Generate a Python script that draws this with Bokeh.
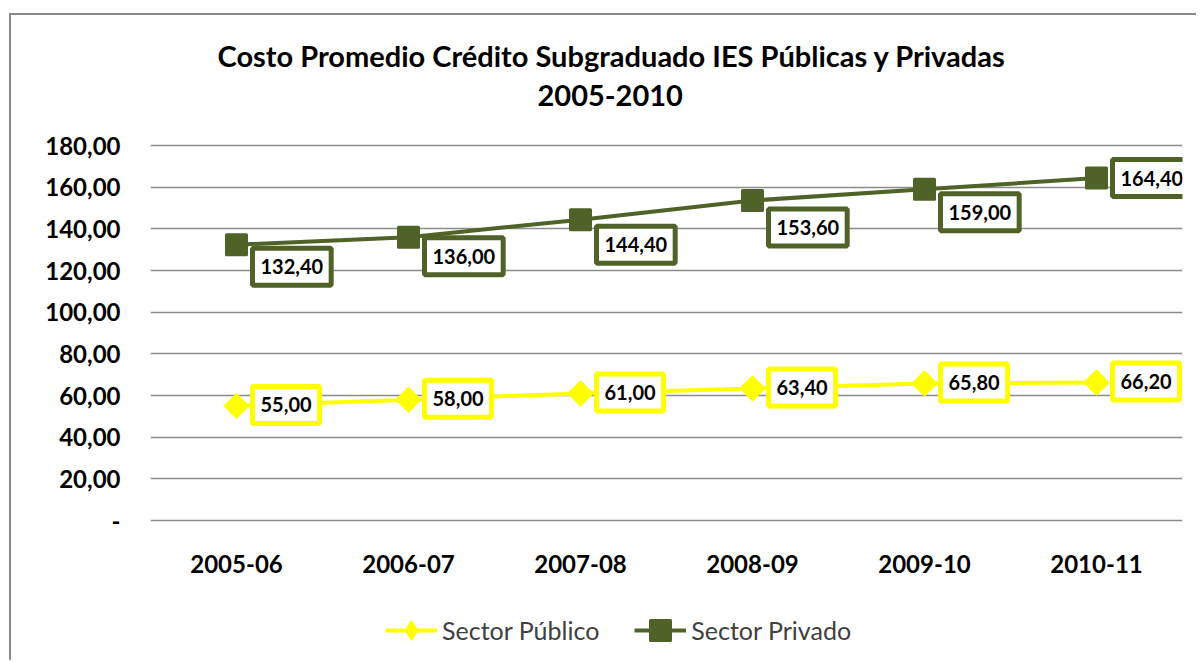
import math
from bokeh.plotting import figure
from bokeh.models import (FactorRange, Range1d, FixedTicker, Legend, LegendItem,
                          Title, ColumnDataSource)
from bokeh.core.properties import value
from bokeh.embed import file_html
from bokeh.resources import INLINE

# ---------------- data ----------------
categories = ["2005-06", "2006-07", "2007-08", "2008-09", "2009-10", "2010-11"]
publico = [55.00, 58.00, 61.00, 63.40, 65.80, 66.20]
privado = [132.40, 136.00, 144.40, 153.60, 159.00, 164.40]
y_ticks = [0, 20, 40, 60, 80, 100, 120, 140, 160, 180]
y_tick_labels = ["-", "20,00", "40,00", "60,00", "80,00", "100,00",
                 "120,00", "140,00", "160,00", "180,00"]
title_lines = ["Costo Promedio Crédito Subgraduado  IES Públicas y Privadas", "2005-2010"]
series_names = ["Sector Público", "Sector Privado"]

# label placement (styling, pixels)
priv_label_dy = [22, 19, 25, 27, 23, 0]
pub_label_dy = [-1, -1, -1, -1, -1, -1]

def fmt(v):
    return f"{v:.2f}".replace(".", ",")

FONT = "Lato"
PRIV = "#4F6228"
PUB = "#FFFF00"

# layout geometry (pixels): value axis 0..180 spans 375 px; the frame is extended
# 36 px above 180 (room for the title spacing) and 140 px below 0 (category
# labels + legend live there).
Y_MIN, Y_MAX = 0, 180
PLOT_H = 375
EXTRA_TOP, EXTRA_BOTTOM = 36, 140
units_per_px = (Y_MAX - Y_MIN) / PLOT_H
y_range = Range1d(Y_MIN - EXTRA_BOTTOM * units_per_px, Y_MAX + EXTRA_TOP * units_per_px)

p = figure(frame_width=1032, frame_height=PLOT_H + EXTRA_TOP + EXTRA_BOTTOM,
           output_backend="svg", toolbar_location=None,
           x_range=FactorRange(*categories), y_range=y_range,
           min_border_left=139, min_border_right=14, min_border_top=94,
           min_border_bottom=0, title_location=None,
           styles={"margin-left": "9px", "margin-top": "13px",
                   "border-left": "2px solid #8a8a8a", "border-top": "2px solid #8a8a8a"})
p.outline_line_color = None
p.background_fill_color = "white"
p.border_fill_color = "white"
p.xgrid.grid_line_color = None
p.ygrid.grid_line_color = "#8c8c8c"
p.ygrid.grid_line_width = 1.3
p.ygrid.ticker = FixedTicker(ticks=y_ticks)

ya = p.yaxis[0]
ya.ticker = FixedTicker(ticks=y_ticks)
ya.major_label_overrides = {t: l for t, l in zip(y_ticks, y_tick_labels)}
ya.axis_line_color = None
ya.major_tick_line_color = None
ya.minor_tick_line_color = None
ya.major_tick_out = 0
ya.major_label_standoff = 30
ya.major_label_text_font = FONT
ya.major_label_text_font_style = "bold"
ya.major_label_text_font_size = "24px"
ya.major_label_text_color = "black"

p.xaxis.visible = False

src = ColumnDataSource(dict(
    cat=categories, pub=publico, priv=privado,
    pub_lbl=[fmt(v) for v in publico], priv_lbl=[fmt(v) for v in privado],
    priv_dy=priv_label_dy, pub_dy=pub_label_dy, base=[Y_MIN] * len(categories),
))

# category labels under the value axis baseline
p.text("cat", "base", text="cat", source=src, y_offset=43,
       text_align="center", text_baseline="middle", text_font=value(FONT),
       text_font_style="bold", text_font_size="24px", text_color="black")

l_priv = p.line("cat", "priv", source=src, line_color=PRIV, line_width=4)
m_priv = p.scatter("cat", "priv", source=src, marker="square", size=20,
                   fill_color=PRIV, line_color=PRIV, line_width=3, line_join="round")
l_pub = p.line("cat", "pub", source=src, line_color=PUB, line_width=4)
# narrow diamond (used as the legend key; fully covered by the wide marker below)
pub_key = p.scatter("cat", "pub", source=src, marker="diamond", size=20,
                    fill_color=PUB, line_color=PUB)
m_pub = p.scatter("cat", "pub", source=src, marker="square", angle=math.pi / 4, size=18,
                  fill_color=PUB, line_color=PUB, line_width=1)

p.text("cat", "priv", text="priv_lbl", source=src, x_offset=16, y_offset="priv_dy",
       text_align="left", text_baseline="middle", text_font=value(FONT),
       text_font_style="bold", text_font_size="20px", text_color="black",
       background_fill_color="white", border_line_color=PRIV, border_line_width=5,
       padding=(8, 11))
p.text("cat", "pub", text="pub_lbl", source=src, x_offset=16, y_offset="pub_dy",
       text_align="left", text_baseline="middle", text_font=value(FONT),
       text_font_style="bold", text_font_size="20px", text_color="black",
       background_fill_color="white", border_line_color=PUB, border_line_width=5,
       padding=(8, 11))

legend = Legend(items=[LegendItem(label=series_names[0], renderers=[l_pub, pub_key]),
                       LegendItem(label=series_names[1], renderers=[l_priv, m_priv])],
                orientation="horizontal", location=(235, 5))
legend.border_line_color = None
legend.background_fill_alpha = 0
legend.label_text_font = FONT
legend.label_text_font_size = "25px"
legend.label_text_color = "#404040"
legend.glyph_width = 52
legend.glyph_height = 50
legend.spacing = 35
legend.label_standoff = 5
legend.padding = 0
legend.margin = 0
p.add_layout(legend, "center")

# titles (first added is nearest the frame)
p.add_layout(Title(text=title_lines[1], align="left", offset=387, standoff=8,
                   text_font=FONT, text_font_style="bold", text_font_size="29px",
                   text_color="black"), "above")
p.add_layout(Title(text=title_lines[0], align="left", offset=67, standoff=12,
                   text_font=FONT, text_font_style="bold", text_font_size="29px",
                   text_color="black"), "above")

open("out.html", "w").write(file_html(p, INLINE))
